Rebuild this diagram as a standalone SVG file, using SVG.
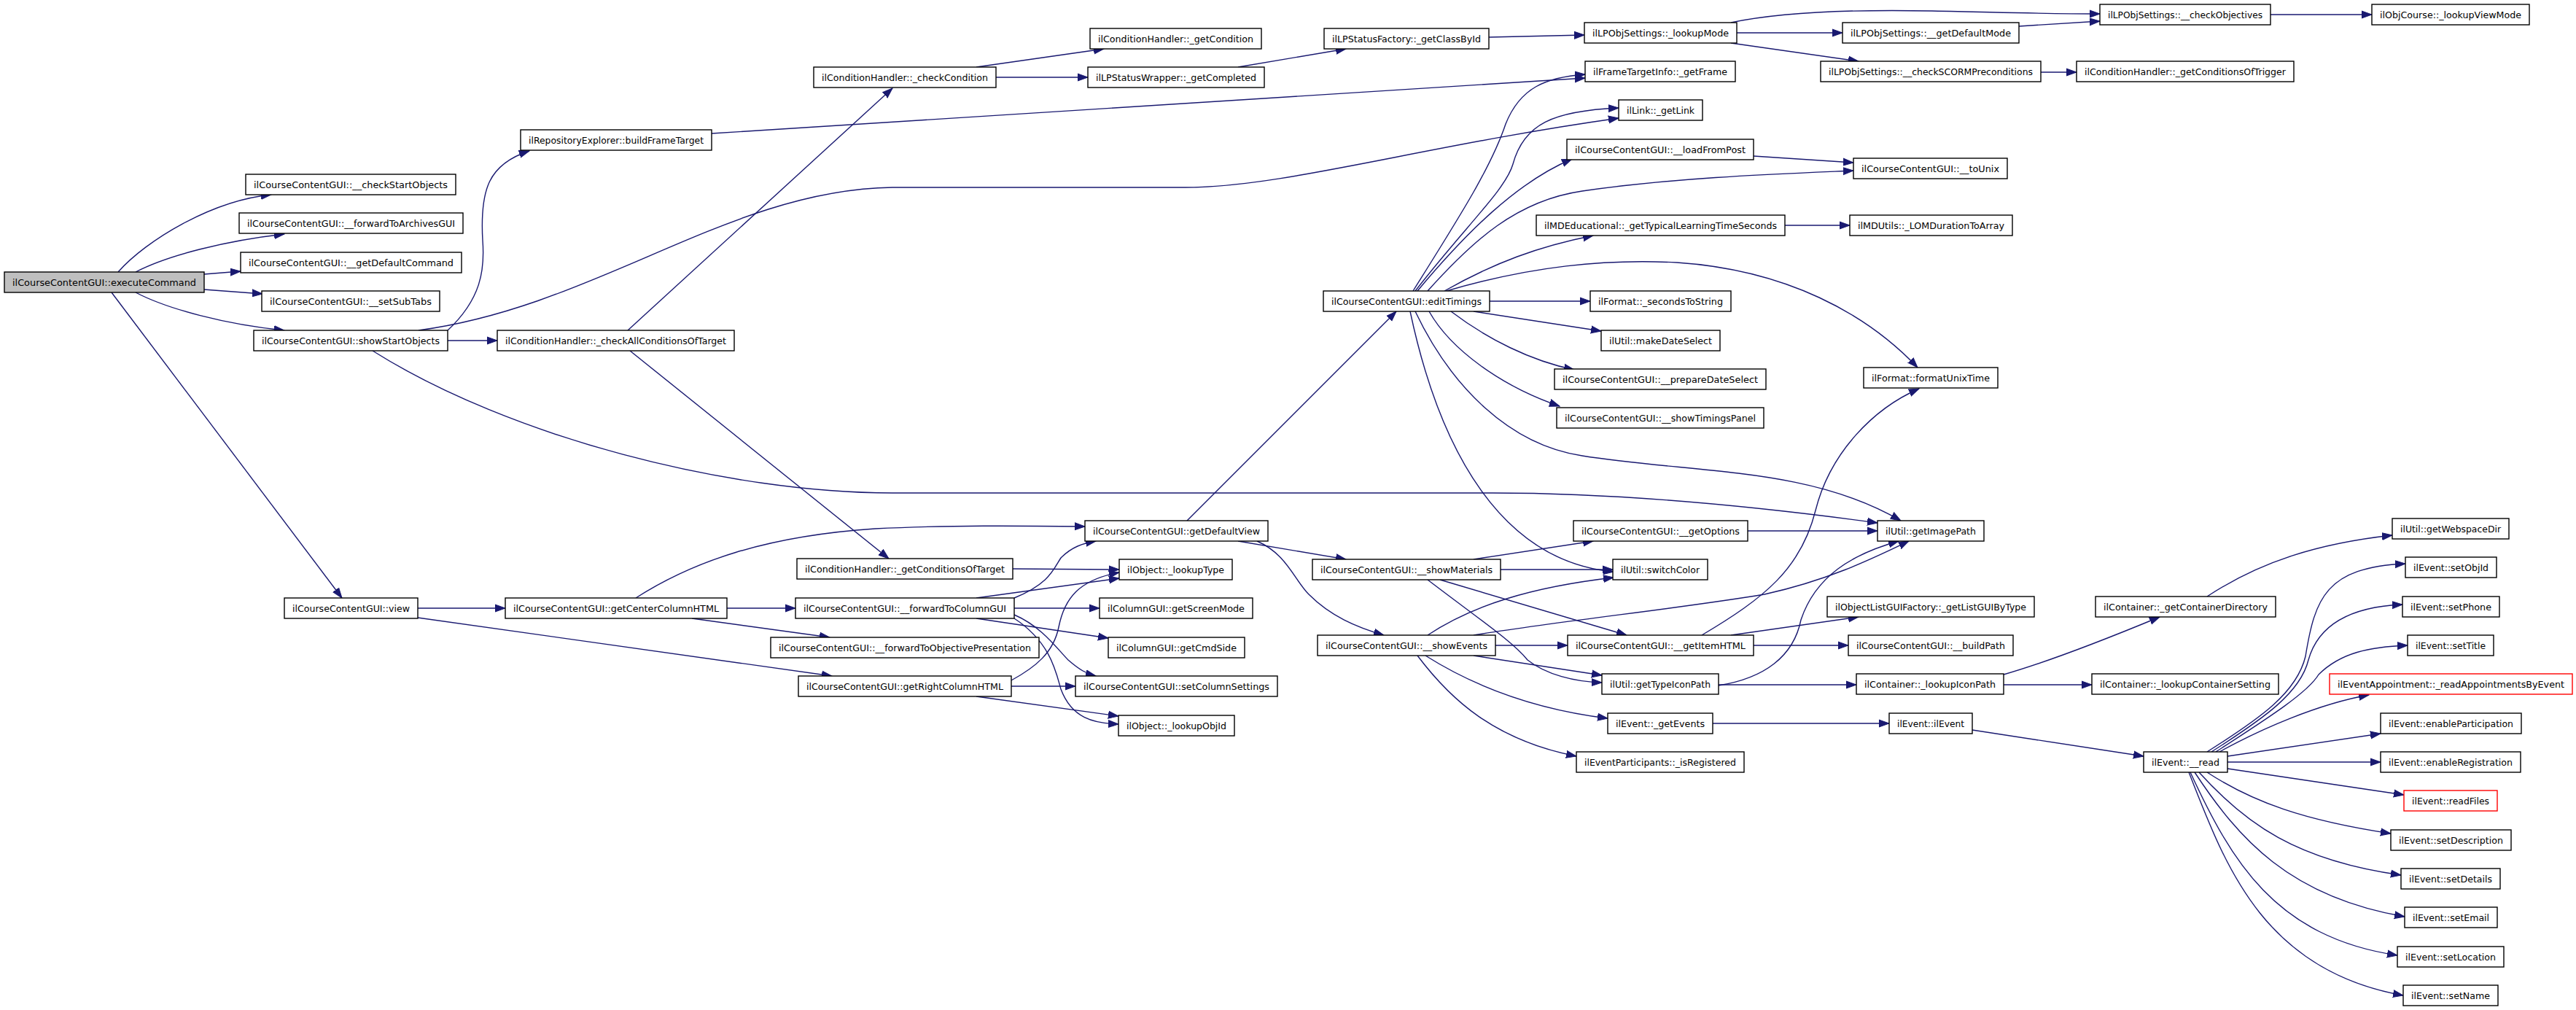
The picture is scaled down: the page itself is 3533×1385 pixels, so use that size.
<svg xmlns="http://www.w3.org/2000/svg" width="3533" height="1385" viewBox="0 0 3533 1385">
<style>
.node rect{fill:#ffffff;stroke:#000000;stroke-width:1.4}
.node.root rect{fill:#bfbfbf}
.node.red rect{stroke:#ff0000}
.node text{font-family:"DejaVu Sans","Liberation Sans",sans-serif;font-size:13px;fill:#000000;text-anchor:middle}
.edges path{fill:none;stroke:#191970;stroke-width:1.4;marker-end:url(#arr)}
</style>
<defs>
<marker id="arr" markerUnits="userSpaceOnUse" markerWidth="16" markerHeight="12" refX="14" refY="6" orient="auto">
<path d="M0,1 L14,6 L0,11 z" fill="#191970" stroke="#191970" stroke-width="1"/>
</marker>
</defs>
<rect x="0" y="0" width="3533" height="1385" fill="#ffffff"/>
<g class="edges" id="edges">
<path d="M162,373 C200,330 290,275 372,267"/>
<path d="M186,373 C230,350 310,330 390,321"/>
<path d="M280,376 L330,372"/>
<path d="M280,397 L360,403"/>
<path d="M186,401 C230,424 310,445 390,453"/>
<path d="M153,401 L469,820"/>
<path d="M614,453 C660,410 665,370 662,330 C658,260 670,225 726,207"/>
<path d="M574,453 C820,420 1000,260 1224,257 L1626,257 C1760,257 1950,200 2220,162"/>
<path d="M614,467 L682,467"/>
<path d="M511,481 C700,600 1000,676 1224,676 L2047,676 C2250,676 2450,700 2575,717"/>
<path d="M976,183 L2174,107"/>
<path d="M861,453 L1224,121"/>
<path d="M864,481 L1219,766"/>
<path d="M1339,92 L1514,67"/>
<path d="M1366,106 L1492,106"/>
<path d="M1698,92 L1846,67"/>
<path d="M2042,51 L2173,48"/>
<path d="M2382,45 L2527,45"/>
<path d="M2374,31 C2450,15 2550,13 2650,15 C2750,17 2800,19 2880,19"/>
<path d="M2374,59 L2549,84"/>
<path d="M2769,36 L2880,29"/>
<path d="M3114,20 L3253,20"/>
<path d="M2799,99 L2848,99"/>
<path d="M1628,714 L1915,427"/>
<path d="M1938,399 C2000,300 2045,230 2065,170 C2085,120 2120,106 2174,102"/>
<path d="M1941,399 C2010,310 2065,260 2075,225 C2090,170 2130,152 2220,148"/>
<path d="M1944,399 C2010,320 2080,250 2156,218"/>
<path d="M1958,399 C2020,330 2080,275 2170,262 C2300,243 2450,238 2542,234"/>
<path d="M1981,399 C2050,360 2110,338 2185,323"/>
<path d="M1984,399 C2100,365 2200,355 2300,360 C2450,370 2560,430 2630,504"/>
<path d="M2043,413 L2181,413"/>
<path d="M2021,427 L2196,454"/>
<path d="M1990,427 C2040,465 2100,495 2159,507"/>
<path d="M1960,427 C1990,480 2060,530 2139,557"/>
<path d="M1934,427 C1975,620 2060,770 2213,784"/>
<path d="M1941,427 C1990,530 2070,610 2170,625 C2330,650 2480,640 2607,714"/>
<path d="M1698,742 L1846,767"/>
<path d="M1724,742 C1765,760 1775,795 1795,815 C1825,845 1860,860 1898,871"/>
<path d="M2021,767 L2185,742"/>
<path d="M2058,781 L2212,781"/>
<path d="M1975,795 L2231,871"/>
<path d="M1958,795 C2030,850 2075,880 2095,905 C2120,925 2160,935 2197,936"/>
<path d="M2397,728 L2575,728"/>
<path d="M1958,871 C2020,830 2100,805 2213,792"/>
<path d="M2021,871 C2150,850 2300,835 2420,815 C2510,795 2570,765 2618,742"/>
<path d="M2051,885 L2150,885"/>
<path d="M2021,899 L2197,926"/>
<path d="M1955,899 C2020,940 2100,972 2205,985"/>
<path d="M1944,899 C1990,960 2050,1015 2162,1037"/>
<path d="M2374,871 L2549,846"/>
<path d="M2405,885 L2535,885"/>
<path d="M2334,871 C2420,820 2470,780 2490,700 C2510,620 2570,560 2632,533"/>
<path d="M2357,940 C2420,930 2460,900 2470,850 C2490,790 2540,760 2604,742"/>
<path d="M2357,939 L2546,939"/>
<path d="M2748,939 L2869,939"/>
<path d="M2748,925 C2800,910 2880,880 2962,846"/>
<path d="M3027,818 C3100,770 3180,745 3281,734"/>
<path d="M2349,992 L2591,992"/>
<path d="M2705,1001 L2940,1037"/>
<path d="M3027,1031 C3100,985 3150,950 3162,900 C3175,820 3190,778 3299,773"/>
<path d="M3033,1031 C3105,985 3155,950 3166,905 C3180,855 3225,832 3295,829"/>
<path d="M3039,1031 C3110,985 3165,950 3180,925 C3210,895 3250,887 3302,885"/>
<path d="M3044,1031 C3100,1000 3180,965 3249,953"/>
<path d="M3055,1037 L3265,1006"/>
<path d="M3055,1045 L3265,1045"/>
<path d="M3055,1054 L3297,1090"/>
<path d="M3027,1059 C3090,1100 3160,1125 3279,1143"/>
<path d="M3016,1059 C3080,1130 3150,1180 3293,1200"/>
<path d="M3010,1059 C3070,1150 3140,1230 3298,1257"/>
<path d="M3004,1059 C3060,1180 3120,1285 3288,1310"/>
<path d="M3002,1059 C3050,1180 3100,1330 3296,1365"/>
<path d="M573,834 L693,834"/>
<path d="M573,847 L1141,927"/>
<path d="M872,820 C950,770 1050,735 1200,725 C1300,720 1400,721 1488,722"/>
<path d="M997,834 L1091,834"/>
<path d="M949,848 L1138,874"/>
<path d="M1389,780 L1535,781"/>
<path d="M1391,820 C1440,800 1445,780 1455,765 C1470,750 1485,745 1503,742"/>
<path d="M1339,820 L1535,793"/>
<path d="M1391,834 L1508,834"/>
<path d="M1339,848 L1520,875"/>
<path d="M1391,843 C1430,860 1450,890 1465,905 C1480,918 1490,924 1503,927"/>
<path d="M1391,848 C1440,880 1448,920 1455,945 C1470,985 1500,992 1534,993"/>
<path d="M1387,933 C1420,915 1445,895 1452,860 C1460,820 1480,795 1535,785"/>
<path d="M1387,941 L1475,941"/>
<path d="M1339,955 L1534,982"/>
<path d="M2448,309 L2537,309"/>
<path d="M2405,214 L2542,223"/>
</g>
<g id="n1" class="node root"><rect x="6" y="373" width="274" height="28"/><text x="143" y="392" textLength="252" lengthAdjust="spacingAndGlyphs">ilCourseContentGUI::executeCommand</text></g>
<g id="n2" class="node"><rect x="337" y="239" width="288" height="28"/><text x="481" y="258" textLength="266" lengthAdjust="spacingAndGlyphs">ilCourseContentGUI::__checkStartObjects</text></g>
<g id="n3" class="node"><rect x="328" y="292" width="307" height="28"/><text x="481.5" y="311" textLength="285" lengthAdjust="spacingAndGlyphs">ilCourseContentGUI::__forwardToArchivesGUI</text></g>
<g id="n4" class="node"><rect x="330" y="346" width="303" height="28"/><text x="481.5" y="365" textLength="281" lengthAdjust="spacingAndGlyphs">ilCourseContentGUI::__getDefaultCommand</text></g>
<g id="n5" class="node"><rect x="359" y="399" width="244" height="28"/><text x="481" y="418" textLength="222" lengthAdjust="spacingAndGlyphs">ilCourseContentGUI::__setSubTabs</text></g>
<g id="n6" class="node"><rect x="348" y="453" width="266" height="28"/><text x="481" y="472" textLength="244" lengthAdjust="spacingAndGlyphs">ilCourseContentGUI::showStartObjects</text></g>
<g id="n7" class="node"><rect x="714" y="178" width="262" height="28"/><text x="845" y="197" textLength="240" lengthAdjust="spacingAndGlyphs">ilRepositoryExplorer::buildFrameTarget</text></g>
<g id="n8" class="node"><rect x="682" y="453" width="325" height="28"/><text x="844.5" y="472" textLength="303" lengthAdjust="spacingAndGlyphs">ilConditionHandler::_checkAllConditionsOfTarget</text></g>
<g id="n9" class="node"><rect x="1116" y="92" width="250" height="28"/><text x="1241" y="111" textLength="228" lengthAdjust="spacingAndGlyphs">ilConditionHandler::_checkCondition</text></g>
<g id="n10" class="node"><rect x="1495" y="39" width="235" height="28"/><text x="1612.5" y="58" textLength="213" lengthAdjust="spacingAndGlyphs">ilConditionHandler::_getCondition</text></g>
<g id="n11" class="node"><rect x="1492" y="92" width="242" height="28"/><text x="1613" y="111" textLength="220" lengthAdjust="spacingAndGlyphs">ilLPStatusWrapper::_getCompleted</text></g>
<g id="n12" class="node"><rect x="1816" y="39" width="226" height="28"/><text x="1929" y="58" textLength="204" lengthAdjust="spacingAndGlyphs">ilLPStatusFactory::_getClassById</text></g>
<g id="n13" class="node"><rect x="2173" y="31" width="209" height="28"/><text x="2277.5" y="50" textLength="187" lengthAdjust="spacingAndGlyphs">ilLPObjSettings::_lookupMode</text></g>
<g id="n14" class="node"><rect x="2527" y="31" width="242" height="28"/><text x="2648" y="50" textLength="220" lengthAdjust="spacingAndGlyphs">ilLPObjSettings::__getDefaultMode</text></g>
<g id="n15" class="node"><rect x="2497" y="84" width="302" height="28"/><text x="2648" y="103" textLength="280" lengthAdjust="spacingAndGlyphs">ilLPObjSettings::__checkSCORMPreconditions</text></g>
<g id="n16" class="node"><rect x="2174" y="84" width="206" height="28"/><text x="2277" y="103" textLength="184" lengthAdjust="spacingAndGlyphs">ilFrameTargetInfo::_getFrame</text></g>
<g id="n17" class="node"><rect x="2220" y="137" width="115" height="28"/><text x="2277.5" y="156" textLength="93" lengthAdjust="spacingAndGlyphs">ilLink::_getLink</text></g>
<g id="n18" class="node"><rect x="2149" y="191" width="256" height="28"/><text x="2277" y="210" textLength="234" lengthAdjust="spacingAndGlyphs">ilCourseContentGUI::__loadFromPost</text></g>
<g id="n19" class="node"><rect x="2542" y="217" width="211" height="28"/><text x="2647.5" y="236" textLength="189" lengthAdjust="spacingAndGlyphs">ilCourseContentGUI::__toUnix</text></g>
<g id="n20" class="node"><rect x="2107" y="295" width="341" height="28"/><text x="2277.5" y="314" textLength="319" lengthAdjust="spacingAndGlyphs">ilMDEducational::_getTypicalLearningTimeSeconds</text></g>
<g id="n21" class="node"><rect x="2537" y="295" width="223" height="28"/><text x="2648.5" y="314" textLength="201" lengthAdjust="spacingAndGlyphs">ilMDUtils::_LOMDurationToArray</text></g>
<g id="n22" class="node"><rect x="1815" y="399" width="228" height="28"/><text x="1929" y="418" textLength="206" lengthAdjust="spacingAndGlyphs">ilCourseContentGUI::editTimings</text></g>
<g id="n23" class="node"><rect x="2181" y="399" width="193" height="28"/><text x="2277.5" y="418" textLength="171" lengthAdjust="spacingAndGlyphs">ilFormat::_secondsToString</text></g>
<g id="n24" class="node"><rect x="2196" y="453" width="163" height="28"/><text x="2277.5" y="472" textLength="141" lengthAdjust="spacingAndGlyphs">ilUtil::makeDateSelect</text></g>
<g id="n25" class="node"><rect x="2880" y="6" width="234" height="28"/><text x="2997" y="25" textLength="212" lengthAdjust="spacingAndGlyphs">ilLPObjSettings::__checkObjectives</text></g>
<g id="n26" class="node"><rect x="3253" y="6" width="216" height="28"/><text x="3361" y="25" textLength="194" lengthAdjust="spacingAndGlyphs">ilObjCourse::_lookupViewMode</text></g>
<g id="n27" class="node"><rect x="2848" y="84" width="298" height="28"/><text x="2997" y="103" textLength="276" lengthAdjust="spacingAndGlyphs">ilConditionHandler::_getConditionsOfTrigger</text></g>
<g id="n28" class="node"><rect x="2132" y="506" width="290" height="28"/><text x="2277" y="525" textLength="268" lengthAdjust="spacingAndGlyphs">ilCourseContentGUI::__prepareDateSelect</text></g>
<g id="n29" class="node"><rect x="2135" y="559" width="284" height="28"/><text x="2277" y="578" textLength="262" lengthAdjust="spacingAndGlyphs">ilCourseContentGUI::__showTimingsPanel</text></g>
<g id="n30" class="node"><rect x="2556" y="504" width="184" height="28"/><text x="2648" y="523" textLength="162" lengthAdjust="spacingAndGlyphs">ilFormat::formatUnixTime</text></g>
<g id="n31" class="node"><rect x="2575" y="714" width="146" height="28"/><text x="2648" y="733" textLength="124" lengthAdjust="spacingAndGlyphs">ilUtil::getImagePath</text></g>
<g id="n32" class="node"><rect x="2158" y="714" width="239" height="28"/><text x="2277.5" y="733" textLength="217" lengthAdjust="spacingAndGlyphs">ilCourseContentGUI::__getOptions</text></g>
<g id="n33" class="node"><rect x="2212" y="767" width="130" height="28"/><text x="2277" y="786" textLength="108" lengthAdjust="spacingAndGlyphs">ilUtil::switchColor</text></g>
<g id="n34" class="node"><rect x="1800" y="767" width="258" height="28"/><text x="1929" y="786" textLength="236" lengthAdjust="spacingAndGlyphs">ilCourseContentGUI::__showMaterials</text></g>
<g id="n35" class="node"><rect x="2506" y="818" width="284" height="28"/><text x="2648" y="837" textLength="262" lengthAdjust="spacingAndGlyphs">ilObjectListGUIFactory::_getListGUIByType</text></g>
<g id="n36" class="node"><rect x="1807" y="871" width="244" height="28"/><text x="1929" y="890" textLength="222" lengthAdjust="spacingAndGlyphs">ilCourseContentGUI::__showEvents</text></g>
<g id="n37" class="node"><rect x="2150" y="871" width="255" height="28"/><text x="2277.5" y="890" textLength="233" lengthAdjust="spacingAndGlyphs">ilCourseContentGUI::__getItemHTML</text></g>
<g id="n38" class="node"><rect x="2535" y="871" width="226" height="28"/><text x="2648" y="890" textLength="204" lengthAdjust="spacingAndGlyphs">ilCourseContentGUI::__buildPath</text></g>
<g id="n39" class="node"><rect x="3281" y="711" width="160" height="28"/><text x="3361" y="730" textLength="138" lengthAdjust="spacingAndGlyphs">ilUtil::getWebspaceDir</text></g>
<g id="n40" class="node"><rect x="3299" y="764" width="125" height="28"/><text x="3361.5" y="783" textLength="103" lengthAdjust="spacingAndGlyphs">ilEvent::setObjId</text></g>
<g id="n41" class="node"><rect x="3295" y="818" width="133" height="28"/><text x="3361.5" y="837" textLength="111" lengthAdjust="spacingAndGlyphs">ilEvent::setPhone</text></g>
<g id="n42" class="node"><rect x="3302" y="871" width="118" height="28"/><text x="3361" y="890" textLength="96" lengthAdjust="spacingAndGlyphs">ilEvent::setTitle</text></g>
<g id="n43" class="node"><rect x="2874" y="818" width="247" height="28"/><text x="2997.5" y="837" textLength="225" lengthAdjust="spacingAndGlyphs">ilContainer::_getContainerDirectory</text></g>
<g id="n44" class="node"><rect x="1488" y="714" width="251" height="28"/><text x="1613.5" y="733" textLength="229" lengthAdjust="spacingAndGlyphs">ilCourseContentGUI::getDefaultView</text></g>
<g id="n45" class="node"><rect x="1093" y="766" width="296" height="28"/><text x="1241" y="785" textLength="274" lengthAdjust="spacingAndGlyphs">ilConditionHandler::_getConditionsOfTarget</text></g>
<g id="n46" class="node"><rect x="1535" y="767" width="155" height="28"/><text x="1612.5" y="786" textLength="133" lengthAdjust="spacingAndGlyphs">ilObject::_lookupType</text></g>
<g id="n47" class="node"><rect x="693" y="820" width="304" height="28"/><text x="845" y="839" textLength="282" lengthAdjust="spacingAndGlyphs">ilCourseContentGUI::getCenterColumnHTML</text></g>
<g id="n48" class="node"><rect x="1091" y="820" width="300" height="28"/><text x="1241" y="839" textLength="278" lengthAdjust="spacingAndGlyphs">ilCourseContentGUI::__forwardToColumnGUI</text></g>
<g id="n49" class="node"><rect x="1508" y="820" width="210" height="28"/><text x="1613" y="839" textLength="188" lengthAdjust="spacingAndGlyphs">ilColumnGUI::getScreenMode</text></g>
<g id="n50" class="node"><rect x="1057" y="874" width="368" height="28"/><text x="1241" y="893" textLength="346" lengthAdjust="spacingAndGlyphs">ilCourseContentGUI::__forwardToObjectivePresentation</text></g>
<g id="n51" class="node"><rect x="1520" y="874" width="187" height="28"/><text x="1613.5" y="893" textLength="165" lengthAdjust="spacingAndGlyphs">ilColumnGUI::getCmdSide</text></g>
<g id="n52" class="node"><rect x="390" y="820" width="183" height="28"/><text x="481.5" y="839" textLength="161" lengthAdjust="spacingAndGlyphs">ilCourseContentGUI::view</text></g>
<g id="n53" class="node"><rect x="1095" y="927" width="292" height="28"/><text x="1241" y="946" textLength="270" lengthAdjust="spacingAndGlyphs">ilCourseContentGUI::getRightColumnHTML</text></g>
<g id="n54" class="node"><rect x="1475" y="927" width="277" height="28"/><text x="1613.5" y="946" textLength="255" lengthAdjust="spacingAndGlyphs">ilCourseContentGUI::setColumnSettings</text></g>
<g id="n55" class="node"><rect x="1534" y="981" width="159" height="28"/><text x="1613.5" y="1000" textLength="137" lengthAdjust="spacingAndGlyphs">ilObject::_lookupObjId</text></g>
<g id="n56" class="node"><rect x="2197" y="924" width="160" height="28"/><text x="2277" y="943" textLength="138" lengthAdjust="spacingAndGlyphs">ilUtil::getTypeIconPath</text></g>
<g id="n57" class="node"><rect x="2205" y="978" width="144" height="28"/><text x="2277" y="997" textLength="122" lengthAdjust="spacingAndGlyphs">ilEvent::_getEvents</text></g>
<g id="n58" class="node"><rect x="2162" y="1031" width="230" height="28"/><text x="2277" y="1050" textLength="208" lengthAdjust="spacingAndGlyphs">ilEventParticipants::_isRegistered</text></g>
<g id="n59" class="node"><rect x="2546" y="924" width="202" height="28"/><text x="2647" y="943" textLength="180" lengthAdjust="spacingAndGlyphs">ilContainer::_lookupIconPath</text></g>
<g id="n60" class="node"><rect x="2591" y="978" width="114" height="28"/><text x="2648" y="997" textLength="92" lengthAdjust="spacingAndGlyphs">ilEvent::ilEvent</text></g>
<g id="n61" class="node"><rect x="2869" y="924" width="256" height="28"/><text x="2997" y="943" textLength="234" lengthAdjust="spacingAndGlyphs">ilContainer::_lookupContainerSetting</text></g>
<g id="n62" class="node red"><rect x="3195" y="924" width="333" height="28"/><text x="3361.5" y="943" textLength="311" lengthAdjust="spacingAndGlyphs">ilEventAppointment::_readAppointmentsByEvent</text></g>
<g id="n63" class="node"><rect x="3265" y="978" width="193" height="28"/><text x="3361.5" y="997" textLength="171" lengthAdjust="spacingAndGlyphs">ilEvent::enableParticipation</text></g>
<g id="n64" class="node"><rect x="2940" y="1031" width="115" height="28"/><text x="2997.5" y="1050" textLength="93" lengthAdjust="spacingAndGlyphs">ilEvent::__read</text></g>
<g id="n65" class="node"><rect x="3265" y="1031" width="192" height="28"/><text x="3361" y="1050" textLength="170" lengthAdjust="spacingAndGlyphs">ilEvent::enableRegistration</text></g>
<g id="n66" class="node red"><rect x="3297" y="1084" width="128" height="28"/><text x="3361" y="1103" textLength="106" lengthAdjust="spacingAndGlyphs">ilEvent::readFiles</text></g>
<g id="n67" class="node"><rect x="3279" y="1138" width="165" height="28"/><text x="3361.5" y="1157" textLength="143" lengthAdjust="spacingAndGlyphs">ilEvent::setDescription</text></g>
<g id="n68" class="node"><rect x="3293" y="1191" width="136" height="28"/><text x="3361" y="1210" textLength="114" lengthAdjust="spacingAndGlyphs">ilEvent::setDetails</text></g>
<g id="n69" class="node"><rect x="3298" y="1244" width="127" height="28"/><text x="3361.5" y="1263" textLength="105" lengthAdjust="spacingAndGlyphs">ilEvent::setEmail</text></g>
<g id="n70" class="node"><rect x="3288" y="1298" width="146" height="28"/><text x="3361" y="1317" textLength="124" lengthAdjust="spacingAndGlyphs">ilEvent::setLocation</text></g>
<g id="n71" class="node"><rect x="3296" y="1351" width="130" height="28"/><text x="3361" y="1370" textLength="108" lengthAdjust="spacingAndGlyphs">ilEvent::setName</text></g>
</svg>
